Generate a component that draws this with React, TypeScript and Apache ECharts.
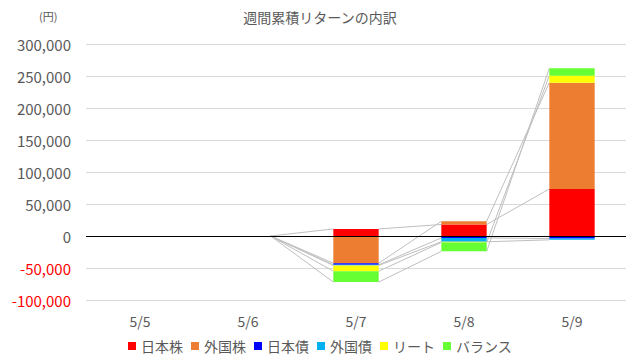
import React, { useEffect, useRef } from "react";
import * as echarts from "echarts";

const categories = ["5/5", "5/6", "5/7", "5/8", "5/9"];
const seriesNames = ["日本株", "外国株", "日本債", "外国債", "リート", "バランス"];
const seriesColors = ["#FF0000", "#ED7D31", "#0000FF", "#00B0F0", "#FFFF00", "#66FF33"];
const japanStock = [0, 0, 11000, 18000, 73500];
const foreignStock = [0, 0, -42500, 5000, 166000];
const japanBond = [0, 0, -2500, -3000, -4000];
const foreignBond = [0, 0, -1000, -6000, -2000];
const reit = [0, 0, -9000, -1000, 11000];
const balance = [0, 0, -17000, -14000, 11500];
const seriesValues = [japanStock, foreignStock, japanBond, foreignBond, reit, balance];
const yMin = -100000;
const yMax = 300000;
const yInterval = 50000;

const BAR_FRACTION = 0.42;

export default function App() {
  const ref = useRef<HTMLDivElement>(null);
  useEffect(() => {
    if (!ref.current) return;
    const chart = echarts.init(ref.current, null, { renderer: "svg" });

    // cumulative end of each segment (same-sign stacking)
    const ends: number[][] = seriesValues.map(() => categories.map(() => 0));
    categories.forEach((_, i) => {
      let pos = 0;
      let neg = 0;
      seriesValues.forEach((vals, s) => {
        const v = vals[i];
        if (v >= 0) {
          pos += v;
          ends[s][i] = pos;
        } else {
          neg += v;
          ends[s][i] = neg;
        }
      });
    });
    const lineData: number[][] = [];
    seriesValues.forEach((_, s) => {
      for (let i = 0; i < categories.length - 1; i++) {
        lineData.push([i, ends[s][i], ends[s][i + 1]]);
      }
    });

    const font = "'Noto Sans CJK JP', 'Noto Sans', sans-serif";
    const barSeries: any[] = seriesNames.map((name, s) => ({
      name,
      type: "bar",
      stack: "total",
      barWidth: BAR_FRACTION * 100 + "%",
      itemStyle: { color: seriesColors[s] },
      data: seriesValues[s],
      z: 3,
    }));
    barSeries[0].markLine = {
      silent: true,
      symbol: ["none", "none"],
      label: { show: false },
      lineStyle: { color: "#000", width: 1.2, type: "solid" },
      data: [{ yAxis: 0 }],
    };

    chart.setOption({
      animation: false,
      textStyle: { fontFamily: font },
      title: {
        text: "週間累積リターンの内訳",
        left: "center",
        top: 5,
        textStyle: { fontSize: 14, fontWeight: "normal", color: "#595959", fontFamily: font },
      },
      graphic: [
        {
          type: "text",
          left: 39,
          top: 10,
          style: { text: "(円)", fontSize: 11, fill: "#595959", fontFamily: font },
        },
      ],
      legend: {
        data: seriesNames,
        bottom: 2,
        left: "center",
        itemWidth: 8,
        itemHeight: 8,
        itemGap: 8,
        icon: "rect",
        textStyle: { fontSize: 14, color: "#595959", fontFamily: font },
      },
      grid: { left: 86, right: 14, top: 44, bottom: 60, containLabel: false },
      xAxis: {
        type: "category",
        data: categories,
        axisLine: { show: false, onZero: false },
        axisTick: { show: false },
        axisLabel: { fontSize: 14, color: "#595959", margin: 14, fontFamily: font },
      },
      yAxis: {
        type: "value",
        min: yMin,
        max: yMax,
        interval: yInterval,
        axisLine: { show: false },
        axisTick: { show: false },
        splitLine: { lineStyle: { color: "#d9d9d9" } },
        axisLabel: {
          fontSize: 15,
          margin: 15,
          fontFamily: font,
          color: (v: any) => (Number(v) < 0 ? "#FF0000" : "#595959"),
          formatter: (v: number) => v.toLocaleString("en-US"),
        },
      },
      series: [
        {
          type: "custom",
          name: "seriesLines",
          silent: true,
          z: 1,
          encode: { x: 0, y: [1, 2] },
          data: lineData,
          renderItem: (params: any, api: any) => {
            const a = api.value(1);
            const b = api.value(2);
            if (a === 0 && b === 0) return null;
            const i = api.value(0);
            const p0 = api.coord([i, a]);
            const p1 = api.coord([i + 1, b]);
            const half = (api.size([1, 0])[0] * BAR_FRACTION) / 2;
            return {
              type: "line",
              shape: { x1: p0[0] + half, y1: p0[1], x2: p1[0] - half, y2: p1[1] },
              style: { stroke: "#bfbfbf", lineWidth: 1 },
            };
          },
        },
        ...barSeries,
      ],
    });
    return () => chart.dispose();
  }, []);
  return (
    <div
      ref={ref}
      style={{ position: "fixed", left: 0, top: 0, width: 640, height: 360, background: "#fff" }}
    />
  );
}
